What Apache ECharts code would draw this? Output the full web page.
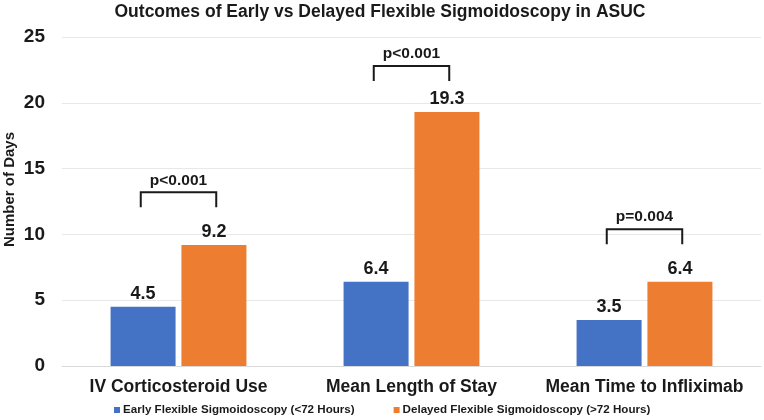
<!DOCTYPE html>
<html>
<head>
<meta charset="utf-8">
<script src="https://cdn.jsdelivr.net/npm/echarts@6/dist/echarts.min.js"></script>
<style>
html,body{margin:0;padding:0;background:#fff;}
#chart{width:764px;height:420px;}
</style>
</head>
<body>
<div id="chart"></div>
<script>
var categories = ['IV Corticosteroid Use', 'Mean Length of Stay', 'Mean Time to Infliximab'];
var earlyValues = [4.5, 6.4, 3.5];
var delayedValues = [9.2, 19.3, 6.4];
var seriesNames = ['Early Flexible Sigmoidoscopy (<72 Hours)', 'Delayed Flexible Sigmoidoscopy (>72 Hours)'];
var pLabels = ['p<0.001', 'p<0.001', 'p=0.004'];
var bracketTops = [13.2, 22.8, 10.4];
var yTicks = [0, 5, 10, 15, 20, 25];

var FONT = '"Liberation Sans", Arial, sans-serif';
var chart = echarts.init(document.getElementById('chart'), null, {renderer: 'canvas'});

var bracketData = bracketTops.map(function (v, i) { return [i, v, pLabels[i]]; });

chart.setOption({
  backgroundColor: '#ffffff',
  animation: false,
  title: {
    text: 'Outcomes of Early vs Delayed Flexible Sigmoidoscopy in ASUC',
    left: 380, top: 3, textAlign: 'center', padding: 0,
    textStyle: {fontFamily: FONT, fontSize: 17.5, fontWeight: 'bold', color: '#1a1a1a'}
  },
  legend: {
    bottom: 4, left: 114, padding: 0,
    itemWidth: 6, itemHeight: 6, itemGap: 39,
    icon: 'rect',
    textStyle: {fontFamily: FONT, fontSize: 11.6, fontWeight: 'bold', color: '#1a1a1a', padding: [0, 0, 0, -2]},
    data: seriesNames
  },
  grid: {left: 62, right: 3, top: 37, bottom: 54, containLabel: false, outerBoundsMode: 'none'},
  xAxis: {
    type: 'category', data: categories,
    axisLine: {show: true, lineStyle: {color: '#d9d9d9', width: 1}},
    axisTick: {show: false},
    axisLabel: {interval: 0, fontFamily: FONT, fontSize: 17.5, fontWeight: 'bold', color: '#1a1a1a', margin: 12}
  },
  yAxis: {
    type: 'value', min: yTicks[0], max: yTicks[yTicks.length - 1], interval: 5,
    name: 'Number of Days', nameLocation: 'middle', nameGap: 45, nameMoveOverlap: false,
    nameTextStyle: {fontFamily: FONT, fontSize: 15, fontWeight: 'bold', color: '#1a1a1a', padding: [0, 0, 0, 24]},
    axisLine: {show: false}, axisTick: {show: false},
    splitLine: {lineStyle: {color: '#e8e8e8', width: 1}},
    axisLabel: {fontFamily: FONT, fontSize: 19, fontWeight: 'bold', color: '#1a1a1a', margin: 17}
  },
  series: [
    {
      name: seriesNames[0], type: 'bar', data: earlyValues,
      barWidth: 65, barGap: '9%',
      itemStyle: {color: '#4472C4'},
      label: {show: true, position: 'top', distance: 4, fontFamily: FONT, fontSize: 18, fontWeight: 'bold', color: '#1a1a1a', formatter: function (p) { return p.value.toFixed(1); }}
    },
    {
      name: seriesNames[1], type: 'bar', data: delayedValues,
      barWidth: 65,
      itemStyle: {color: '#ED7D31'},
      label: {show: true, position: 'top', distance: 4, fontFamily: FONT, fontSize: 18, fontWeight: 'bold', color: '#1a1a1a', formatter: function (p) { return p.value.toFixed(1); }}
    },
    {
      type: 'custom', name: 'brackets', data: bracketData, silent: true, z: 10,
      renderItem: function (params, api) {
        var c = api.coord([api.value(0), api.value(1)]);
        var band = api.size([1, 0])[0];
        var half = band * 0.162;
        var drop = 15;
        var x1 = c[0] - half, x2 = c[0] + half, y = c[1];
        return {
          type: 'group',
          children: [
            {type: 'polyline', shape: {points: [[x1, y + drop], [x1, y], [x2, y], [x2, y + drop]]},
             style: {stroke: '#1a1a1a', lineWidth: 2, fill: null}},
            {type: 'text', style: {text: bracketData[params.dataIndex][2], x: c[0], y: y - 12,
              textAlign: 'center', textVerticalAlign: 'middle',
              font: 'bold 15.5px ' + FONT, fill: '#1a1a1a'}}
          ]
        };
      }
    }
  ]
});
</script>
</body>
</html>
